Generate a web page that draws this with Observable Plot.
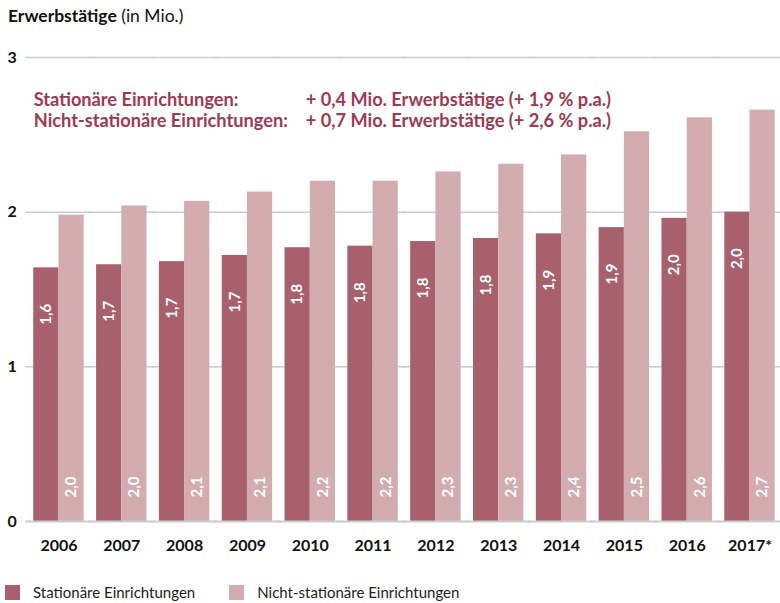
<!DOCTYPE html>
<html>
<head>
<meta charset="utf-8">
<script src="https://cdn.jsdelivr.net/npm/d3@7"></script>
<script src="https://cdn.jsdelivr.net/npm/@observablehq/plot@0.6"></script>
<style>
  body { margin: 0; background: #fff; font-family: Lato, "Noto Sans", sans-serif; }
  #title { margin: 6px 0 0 8px; height: 34px; font-size: 17.5px; line-height: 20px; color: #111; }
  #title b { font-weight: 700; }
  #legend { display: flex; align-items: center; margin: 22px 0 0 5px; font-size: 15px; color: #222; }
  .sw { width: 15px; height: 15px; display: inline-block; margin-right: 13px; }
  .item { display: flex; align-items: center; margin-right: 34px; }
  g[aria-label^="fx-axis"] text { font-weight: 700; font-size: 16px; fill: #111; }
  g[aria-label^="y-axis"] text { font-weight: 700; font-size: 16px; fill: #111; }
</style>
</head>
<body>
<div id="title"><b>Erwerbstätige</b> (in Mio.)</div>
<div id="chart"></div>
<div id="legend"></div>
<script>
const years = ["2006","2007","2008","2009","2010","2011","2012","2013","2014","2015","2016","2017*"];
const seriesNames = ["Stationäre Einrichtungen", "Nicht-stationäre Einrichtungen"];
const stationaer = [1.64, 1.66, 1.68, 1.72, 1.77, 1.78, 1.81, 1.83, 1.86, 1.90, 1.96, 2.00];
const nichtStationaer = [1.98, 2.04, 2.07, 2.13, 2.20, 2.20, 2.26, 2.31, 2.37, 2.52, 2.61, 2.66];
const yTicks = [0, 1, 2, 3];
const annotationLabels = ["Stationäre Einrichtungen:", "Nicht-stationäre Einrichtungen:"];
const annotationValues = ["+ 0,4 Mio. Erwerbstätige (+ 1,9 % p.a.)", "+ 0,7 Mio. Erwerbstätige (+ 2,6 % p.a.)"];
const colors = ["#a8616c", "#d3acb0"];
const accent = "#9c3a52";
const gridColor = "#c8cdd2";

const data = years.flatMap((y, i) => [
  {year: y, series: seriesNames[0], value: stationaer[i]},
  {year: y, series: seriesNames[1], value: nichtStationaer[i]}
]);
const fmt = v => v.toFixed(1).replace(".", ",");

const plot = Plot.plot({
  width: 780,
  height: 521,
  marginTop: 17,
  marginLeft: 26,
  marginRight: 2,
  marginBottom: 40,
  style: {fontFamily: "Lato, 'Noto Sans', sans-serif", background: "#fff"},
  fx: {domain: years, round: false, paddingInner: 0.197, paddingOuter: 0.0836, align: 0.69, label: null, tickSize: 0, tickPadding: 18},
  x: {domain: seriesNames, round: false, padding: 0, axis: null},
  y: {domain: [0, 3], ticks: yTicks, tickSize: 0, tickPadding: 17, label: null, tickFormat: d => d},
  color: {domain: seriesNames, range: colors},
  marks: [
    Plot.ruleY(yTicks.filter(d => d > 0), {stroke: gridColor, strokeWidth: 1.5, insetLeft: -8, insetRight: -8}),
    Plot.barY(data, {fx: "year", x: "series", y: "value", fill: "series"}),
    Plot.ruleY([0], {stroke: gridColor, strokeWidth: 2, insetLeft: -8, insetRight: -8}),
    Plot.text(data.filter(d => d.series === seriesNames[0]), {
      fx: "year", x: "series", y: "value", text: d => fmt(d.value),
      rotate: -90, textAnchor: "end", dy: 36, fill: "white", fontWeight: 700, fontSize: 15
    }),
    Plot.text(data.filter(d => d.series === seriesNames[1]), {
      fx: "year", x: "series", y: () => 0, text: d => fmt(d.value),
      rotate: -90, textAnchor: "start", dy: -24, fill: "white", fontWeight: 700, fontSize: 15
    }),
    Plot.text([annotationLabels.join("\n")], {
      facet: "super", frameAnchor: "top-left", dx: 0, dy: 33, lineAnchor: "top", lineHeight: 1.16,
      fill: accent, fontWeight: 700, fontSize: 18.2, textAnchor: "start"
    }),
    Plot.text([annotationValues.join("\n")], {
      facet: "super", frameAnchor: "top-left", dx: 272, dy: 33, lineAnchor: "top", lineHeight: 1.16,
      fill: accent, fontWeight: 700, fontSize: 18.2, textAnchor: "start"
    })
  ]
});
document.getElementById("chart").appendChild(plot);

const legend = document.getElementById("legend");
seriesNames.forEach((name, i) => {
  const item = document.createElement("span");
  item.className = "item";
  const sw = document.createElement("span");
  sw.className = "sw";
  sw.style.background = colors[i];
  item.appendChild(sw);
  item.appendChild(document.createTextNode(name));
  legend.appendChild(item);
});
</script>
</body>
</html>
